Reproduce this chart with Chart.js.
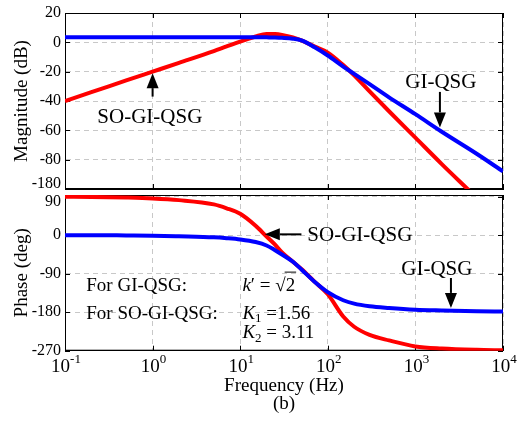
<!DOCTYPE html>
<html>
<head>
<meta charset="utf-8">
<script src="https://cdn.jsdelivr.net/npm/chart.js@4.4.1/dist/chart.umd.min.js"></script>
<style>
    html, body { margin: 0; padding: 0; background: #fff; }
    #wrap { position: relative; width: 517px; height: 423px; }
    #wrap canvas { position: absolute; left: 0; }
    #magChart { top: 0; }
    #phaseChart { top: 183px; }
</style>
</head>
<body>
<div id="wrap">
    <canvas id="magChart" width="517" height="201"></canvas>
    <canvas id="phaseChart" width="517" height="240"></canvas>
</div>
<script>
"use strict";

// frequency points (Hz)
const freqHz = [0.1, 0.2, 0.5, 1, 2, 5, 7, 10, 15, 20, 25, 30, 40, 50, 70, 100, 150, 200, 300, 500, 1000, 2000, 5000, 10000];

// magnitude (dB)
const magSoGiQsg = [-40, -34, -26, -20, -14, -6, -2.8, 0.5, 4, 5.7, 5.6, 5, 3.3, 1.3, -2.8, -7, -15.5, -22.5, -33.5, -47, -65, -83, -106, -124];
const magGiQsg = [3.5, 3.5, 3.5, 3.5, 3.5, 3.5, 3.5, 3.5, 3.5, 3.4, 3.3, 3.1, 2.5, 1.3, -3.2, -9, -16.5, -21.5, -28.5, -37.5, -49, -61, -76, -88];

// phase (deg)
const phaseSoGiQsg = [90, 89.5, 88, 86, 82, 72, 63, 50, 22, -3, -22, -40, -62, -79, -108, -138, -190, -214, -233, -246, -260, -265, -268, -269];
const phaseGiQsg = [0, 0, -0.5, -1, -2.5, -5, -7, -10, -16, -24, -35, -45, -62, -80, -108, -133, -152, -160, -166, -170, -174, -176, -178, -178.5];

// axes
const freqTicks = [0.1, 1, 10, 100, 1000, 10000];
const freqTickExps = ["-1", "0", "1", "2", "3", "4"];
const magTicks = [20, 0, -20, -40, -60, -80, -100];
const magTickLabels = ["20", "0", "-20", "-40", "-60", "-80", "-180"];
const phaseTicks = [90, 0, -90, -180, -270];

const SERIF = '"Liberation Serif", "Times New Roman", serif';
const RED = "#ff0000";
const BLUE = "#0000ff";

// callouts, placed in data coordinates
const magNotes = [
    { text: "SO-GI-QSG", at: [0.93, -51.5], from: [1, -37], to: [1, -21] },
    { text: "GI-QSG", at: [1950, -27.6], from: [1905, -33.8], to: [1905, -58] }
];
const phaseNotes = [
    { text: "SO-GI-QSG", at: [232, 0.5], from: [50, 2], to: [19.1, 2] },
    { text: "GI-QSG", at: [1758, -81], from: [2545, -100], to: [2545, -170] }
];

// tick labels that sit where the two panels meet are nudged inward
const magEdgeTick = { value: -100, text: "-180", shift: -5.5 };
const phaseEdgeTick = { value: 90, text: "90", shift: 5.5 };

function points(values) {
    return freqHz.map((f, i) => ({ x: f, y: values[i] }));
}

function series(values, color) {
    return {
        data: points(values),
        borderColor: color,
        borderWidth: 4,
        pointRadius: 0,
        fill: false,
        cubicInterpolationMode: "monotone"
    };
}

function arrow(ctx, x1, y1, x2, y2) {
    const ang = Math.atan2(y2 - y1, x2 - x1);
    const head = 15, half = 6;
    const bx = x2 - head * Math.cos(ang), by = y2 - head * Math.sin(ang);
    ctx.beginPath();
    ctx.moveTo(x1, y1);
    ctx.lineTo(bx, by);
    ctx.lineWidth = 2;
    ctx.stroke();
    ctx.beginPath();
    ctx.moveTo(x2, y2);
    ctx.lineTo(bx + half * Math.sin(ang), by - half * Math.cos(ang));
    ctx.lineTo(bx - half * Math.sin(ang), by + half * Math.cos(ang));
    ctx.closePath();
    ctx.fill();
}

// draws text pieces one after another, returns the end x
function run(ctx, x, y, pieces) {
    pieces.forEach(p => {
        ctx.font = (p.italic ? "italic " : "") + (p.size || 19) + "px " + SERIF;
        ctx.fillText(p.t, x, y + (p.dy || 0));
        const w = ctx.measureText(p.t).width;
        if (p.bar) {
            ctx.lineWidth = 1;
            ctx.beginPath();
            ctx.moveTo(x - 1, y - 14);
            ctx.lineTo(x + w + 1, y - 14);
            ctx.stroke();
        }
        x += w;
    });
    return x;
}

const decor = {
    id: "decor",
    beforeDatasetsDraw(chart) {
        const { ctx, chartArea: a, scales } = chart;
        ctx.save();
        ctx.strokeStyle = "#000";
        ctx.lineWidth = 1;
        ctx.strokeRect(a.left + 0.5, a.top + 0.5, a.right - a.left - 1, a.bottom - a.top - 1);
        ctx.beginPath();
        freqTicks.forEach(v => {
            const px = Math.round(scales.x.getPixelForValue(v)) + 0.5;
            ctx.moveTo(px, a.top); ctx.lineTo(px, a.top + 5);
            ctx.moveTo(px, a.bottom); ctx.lineTo(px, a.bottom - 5);
        });
        scales.y.ticks.forEach(t => {
            const py = Math.round(scales.y.getPixelForValue(t.value)) + 0.5;
            ctx.moveTo(a.left, py); ctx.lineTo(a.left + 5, py);
            ctx.moveTo(a.right, py); ctx.lineTo(a.right - 5, py);
        });
        ctx.stroke();
        ctx.restore();
    },
    afterDraw(chart) {
        const { ctx, chartArea: a, scales } = chart;
        const opts = chart.options.plugins.decor;
        const notes = opts.notes || [];
        const X = v => scales.x.getPixelForValue(v);
        const Y = v => scales.y.getPixelForValue(v);
        ctx.save();
        ctx.fillStyle = "#000";
        ctx.strokeStyle = "#000";
        if (opts.edgeTick) {
            ctx.font = "16px " + SERIF;
            ctx.textAlign = "right";
            ctx.textBaseline = "middle";
            ctx.fillText(opts.edgeTick.text, a.left - 4, Y(opts.edgeTick.value) + opts.edgeTick.shift);
        }
        ctx.textAlign = "center";
        ctx.textBaseline = "middle";
        notes.forEach(n => {
            ctx.font = "21px " + SERIF;
            ctx.fillText(n.text, X(n.at[0]), Y(n.at[1]));
            arrow(ctx, X(n.from[0]), Y(n.from[1]), X(n.to[0]), Y(n.to[1]));
        });
        if (opts.bottom) {
            // decade labels 10^n
            freqTicks.forEach((v, i) => {
                ctx.font = "19px " + SERIF;
                const wb = ctx.measureText("10").width;
                ctx.font = "13px " + SERIF;
                const we = ctx.measureText(freqTickExps[i]).width;
                const x0 = X(v) - (wb + we) / 2 + 1;
                ctx.textAlign = "left";
                ctx.font = "19px " + SERIF;
                ctx.fillText("10", x0, a.bottom + 16);
                ctx.font = "13px " + SERIF;
                ctx.fillText(freqTickExps[i], x0 + wb, a.bottom + 9);
            });
            // parameter text
            ctx.textAlign = "left";
            const left = X(0.175);
            const math = X(10.6);
            run(ctx, left, Y(-119), [{ t: "For GI-QSG:" }]);
            run(ctx, math, Y(-119), [
                { t: "k", italic: true }, { t: "\u2032" }, { t: " = " }, { t: "\u221a" }, { t: "2", bar: true }
            ]);
            run(ctx, left, Y(-184), [{ t: "For SO-GI-QSG:" }]);
            run(ctx, math, Y(-184), [
                { t: "K", italic: true }, { t: "1", size: 13, dy: 5 }, { t: " =1.56" }
            ]);
            run(ctx, math, Y(-229), [
                { t: "K", italic: true }, { t: "2", size: 13, dy: 5 }, { t: " = 3.11" }
            ]);
        }
        ctx.restore();
    }
};

function xAxis(bottom) {
    return {
        type: "logarithmic",
        min: 0.1,
        max: 10000,
        afterBuildTicks: scale => { scale.ticks = freqTicks.map(value => ({ value })); },
        afterFit: scale => {
            scale.height = bottom ? 72.3 : 0;
            scale.paddingLeft = 0;
            scale.paddingRight = 0;
        },
        ticks: { display: false },
        grid: { color: "#c8c8c8", lineWidth: 1, drawTicks: false },
        border: { color: "#000", width: 1, dash: [5, 4] },
        title: {
            display: bottom,
            text: ["Frequency (Hz)", "(b)"],
            color: "#000",
            font: { family: SERIF, size: 19, lineHeight: "18px" },
            padding: { top: 0, bottom: 10 }
        }
    };
}

function yAxis(min, max, ticks, label, title) {
    return {
        min,
        max,
        afterBuildTicks: scale => { scale.ticks = ticks.map(value => ({ value })); },
        afterFit: scale => {
            scale.width = 65;
            scale.paddingTop = 0;
            scale.paddingBottom = 0;
        },
        ticks: {
            color: "#000",
            padding: 4,
            font: { family: SERIF, size: 16 },
            callback: label
        },
        grid: { color: "#c8c8c8", lineWidth: 1, drawTicks: false },
        border: { color: "#000", width: 1, dash: [5, 4] },
        title: {
            display: true,
            text: title,
            color: "#000",
            font: { family: SERIF, size: 19, lineHeight: 1 },
            padding: { top: 13, bottom: 0 }
        }
    };
}

new Chart(document.getElementById("magChart"), {
    type: "line",
    data: { datasets: [series(magGiQsg, BLUE), series(magSoGiQsg, RED)] },
    options: {
        responsive: false,
        animation: false,
        layout: { padding: { left: 0, right: 14, top: 13, bottom: 12 } },
        plugins: {
            legend: { display: false },
            tooltip: { enabled: false },
            decor: { notes: magNotes, edgeTick: magEdgeTick }
        },
        scales: {
            x: xAxis(false),
            y: yAxis(-100, 20, magTicks, value => {
                const i = magTicks.indexOf(value);
                return i >= 0 && value !== magEdgeTick.value ? magTickLabels[i] : "";
            }, "Magnitude (dB)")
        }
    },
    plugins: [decor]
});

new Chart(document.getElementById("phaseChart"), {
    type: "line",
    data: { datasets: [series(phaseGiQsg, BLUE), series(phaseSoGiQsg, RED)] },
    options: {
        responsive: false,
        animation: false,
        layout: { padding: { left: 0, right: 14, top: 12, bottom: 0 } },
        plugins: {
            legend: { display: false },
            tooltip: { enabled: false },
            decor: { notes: phaseNotes, bottom: true, edgeTick: phaseEdgeTick }
        },
        scales: {
            x: xAxis(true),
            y: yAxis(-270, 94, phaseTicks, value => value === phaseEdgeTick.value ? "" : String(value), "Phase (deg)")
        }
    },
    plugins: [decor]
});
</script>
</body>
</html>
